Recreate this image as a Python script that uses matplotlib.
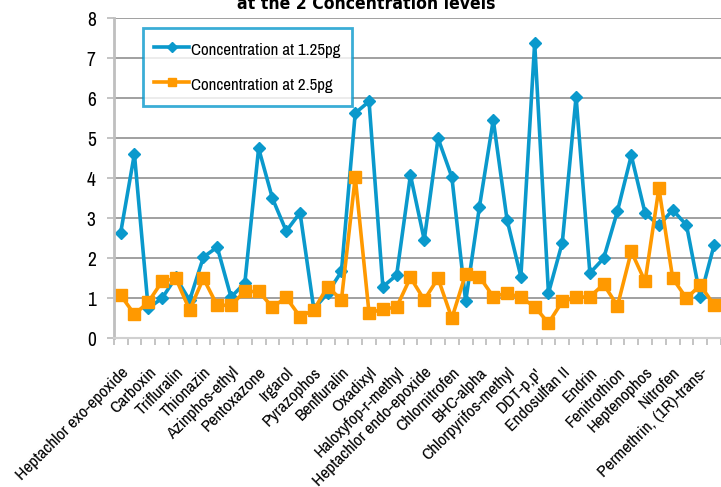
import matplotlib
matplotlib.use('Agg')
import matplotlib.pyplot as plt
import numpy as np

plt.rcParams['font.family'] = ['Archivo Narrow', 'DejaVu Sans']
plt.rcParams['font.stretch'] = 'condensed'

# every other compound is labelled on the axis
labels = ['Heptachlor exo-epoxide', 'Carboxin', 'Trifluralin', 'Thionazin',
          'Azinphos-ethyl', 'Pentoxazone', 'Irgarol', 'Pyrazophos',
          'Benfluralin', 'Oxadixyl', 'Haloxyfop-r-methyl',
          'Heptachlor endo-epoxide', 'Chlornitrofen', 'BHC-alpha',
          'Chlorpyrifos-methyl', "DDT-p,p'", 'Endosulfan II', 'Endrin',
          'Fenitrothion', 'Heptenophos', 'Nitrofen', 'Permethrin, (1R)-trans-']

conc_125 = [2.63, 4.61, 0.75, 1.00, 1.52, 0.95, 2.03, 2.28, 1.03, 1.38,
            4.75, 3.50, 2.68, 3.14, 0.73, 1.13, 1.67, 5.63, 5.92, 1.29,
            1.58, 4.08, 2.46, 5.00, 4.03, 0.92, 3.29, 5.46, 2.96, 1.54,
            7.38, 1.13, 2.39, 6.04, 1.63, 2.00, 3.18, 4.57, 3.13, 2.82,
            3.21, 2.83, 1.03, 2.33]
conc_25 = [1.08, 0.60, 0.90, 1.42, 1.50, 0.71, 1.50, 0.82, 0.83, 1.17,
           1.17, 0.78, 1.02, 0.54, 0.71, 1.29, 0.96, 4.03, 0.63, 0.73,
           0.78, 1.52, 0.96, 1.50, 0.50, 1.61, 1.54, 1.04, 1.13, 1.02,
           0.79, 0.38, 0.92, 1.02, 1.04, 1.35, 0.81, 2.17, 1.42, 3.75,
           1.50, 1.00, 1.33, 0.83]

blue = '#0a99cc'
orange = '#ff9900'

fig = plt.figure(figsize=(7.21, 4.87), dpi=100)
ax = fig.add_axes([113.7 / 721, 1 - 338.3 / 487, 1 - 113.7 / 721, (338.3 - 18.3) / 487])

x = np.arange(len(conc_125))
l1, = ax.plot(x, conc_125, color=blue, lw=2.6, marker='D', ms=5.8,
              mec=blue, label='Concentration at 1.25pg')
l2, = ax.plot(x, conc_25, color=orange, lw=2.6, marker='s', ms=8,
              mec=orange, label='Concentration at 2.5pg')

ax.set_ylim(0, 8)
ax.set_xlim(-0.5, 43.07)
ax.set_yticks(range(0, 9))
ax.yaxis.grid(True, color='#868686', lw=1.1)
ax.set_axisbelow(True)

ax.set_xticks(np.arange(-0.5, 44, 1))
ax.set_xticklabels([])
ax.set_xticks(np.arange(0, 44, 2), minor=True)
ax.set_xticklabels(labels, minor=True, rotation=45, ha='right',
                   rotation_mode='anchor', fontsize=12.5)
ax.tick_params(axis='x', which='major', length=5, color='#bfbfbf', width=1.3)
ax.tick_params(axis='x', which='minor', length=0, pad=19)
ax.tick_params(axis='y', length=5, color='#bfbfbf', width=1.3, labelsize=14, pad=8)

for s in ['top', 'right']:
    ax.spines[s].set_visible(False)
ax.spines['left'].set_color('#bfbfbf')
ax.spines['left'].set_linewidth(2)
ax.spines['bottom'].set_color('#d0d0d0')
ax.spines['bottom'].set_linewidth(1.5)

leg = fig.legend(handles=[l1, l2], loc='upper left',
                 bbox_to_anchor=(143.3 / 721, 1 - 28.3 / 487),
                 fontsize=12.2, frameon=True, fancybox=False,
                 labelspacing=0.8, handlelength=2.05, handleheight=1.55,
                 handletextpad=0.13, borderpad=0.65, borderaxespad=0,
                 markerscale=0.8)
leg.get_frame().set_edgecolor(blue)
leg.get_frame().set_linewidth(2)

fig.text(366.7 / 721, 1 - 9 / 487, 'at the 2 Concentration levels',
         ha='center', va='baseline', fontsize=12.6, fontweight='bold',
         family='DejaVu Sans', stretch='condensed')

fig.savefig('out.png', dpi=100)
